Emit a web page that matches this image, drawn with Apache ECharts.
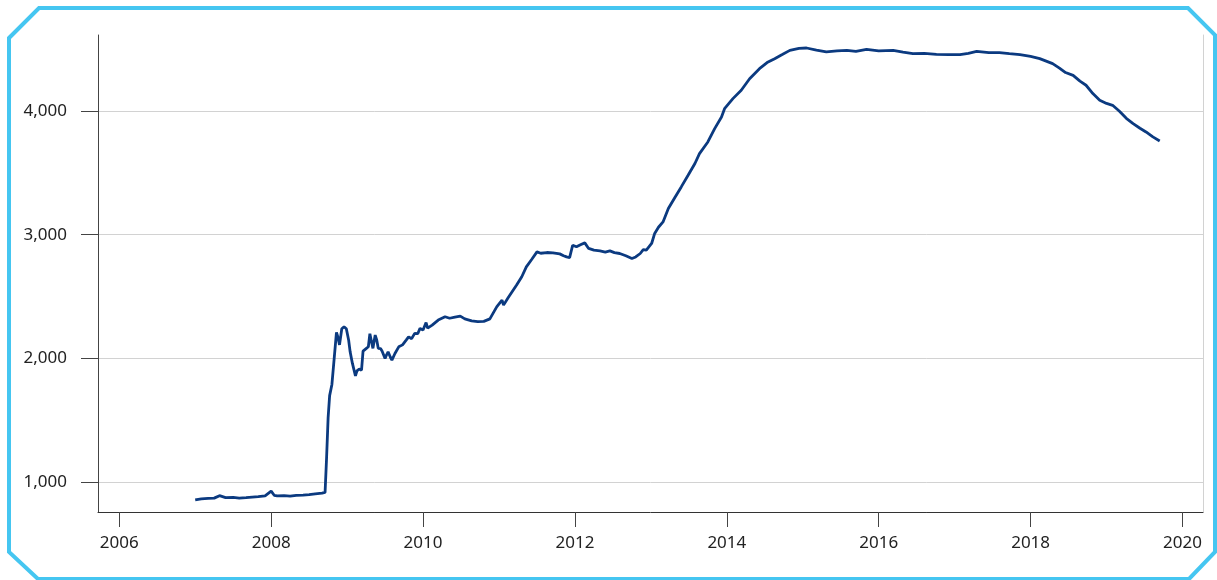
<!DOCTYPE html>
<html>
<head>
<meta charset="utf-8">
<script src="https://cdn.jsdelivr.net/npm/echarts@6/dist/echarts.min.js"></script>
<style>
html,body{margin:0;padding:0;background:#fff;}
#chart{width:1217px;height:580px;}
</style>
</head>
<body>
<div id="chart"></div>
<script>
// decimal years and values (billions)
var years = [
  2007.00,2007.08,2007.17,2007.25,2007.32,2007.40,2007.50,2007.58,2007.67,2007.75,2007.83,2007.92,
  2008.00,2008.04,2008.08,2008.17,2008.25,2008.33,2008.42,2008.50,2008.58,2008.67,2008.71,
  2008.73,2008.75,2008.77,2008.80,2008.83,2008.86,2008.88,2008.90,2008.93,2008.96,2008.99,
  2009.02,2009.04,2009.07,2009.11,2009.13,2009.16,2009.19,2009.21,2009.25,2009.28,2009.30,
  2009.32,2009.34,2009.37,2009.39,2009.41,2009.44,2009.46,2009.50,2009.52,2009.54,2009.57,
  2009.59,2009.63,2009.68,2009.73,2009.78,2009.81,2009.85,2009.89,2009.93,2009.96,2010.00,
  2010.04,2010.06,2010.12,2010.20,2010.29,2010.35,2010.42,2010.49,2010.55,2010.64,2010.72,
  2010.80,2010.88,2010.97,2011.04,2011.06,2011.12,2011.23,2011.30,2011.36,2011.43,2011.50,
  2011.55,2011.63,2011.71,2011.80,2011.85,2011.89,2011.93,2011.97,2012.02,2012.08,2012.13,
  2012.18,2012.25,2012.33,2012.40,2012.46,2012.52,2012.59,2012.67,2012.75,2012.80,2012.86,
  2012.90,2012.94,2013.01,2013.05,2013.10,2013.16,2013.23,2013.32,2013.40,2013.49,2013.58,
  2013.64,2013.75,2013.84,2013.93,2013.97,2014.08,2014.19,2014.30,2014.43,2014.53,2014.63,
  2014.73,2014.83,2014.95,2015.05,2015.18,2015.31,2015.45,2015.58,2015.70,2015.84,2016.00,
  2016.19,2016.32,2016.45,2016.60,2016.76,2016.92,2017.07,2017.18,2017.29,2017.45,2017.59,
  2017.72,2017.86,2018.00,2018.12,2018.29,2018.38,2018.46,2018.56,2018.65,2018.73,2018.82,
  2018.91,2019.00,2019.08,2019.17,2019.26,2019.35,2019.44,2019.52,2019.61,2019.70
];
var assets = [
  858,866,870,872,892,876,878,872,876,880,884,890,
  928,895,890,892,888,894,896,900,906,912,918,
  1200,1520,1700,1790,2000,2210,2170,2110,2240,2256,2240,
  2150,2054,1960,1860,1900,1915,1905,2060,2080,2095,2200,
  2140,2082,2189,2150,2082,2080,2060,2000,2030,2054,2010,
  1987,2040,2094,2110,2150,2175,2160,2203,2200,2243,2230,
  2290,2245,2270,2310,2337,2325,2335,2342,2320,2304,2298,
  2300,2320,2417,2471,2431,2490,2592,2660,2740,2800,2861,
  2850,2856,2853,2845,2830,2821,2815,2915,2902,2920,2934,
  2889,2875,2869,2860,2869,2855,2848,2830,2808,2820,2848,
  2880,2875,2929,3010,3060,3103,3211,3305,3386,3480,3575,
  3655,3749,3857,3951,4018,4099,4167,4260,4341,4390,4422,
  4455,4489,4505,4508,4490,4476,4485,4489,4480,4497,4485,
  4489,4475,4462,4465,4457,4455,4454,4465,4481,4470,4470,
  4462,4454,4440,4422,4382,4346,4310,4287,4240,4207,4140,
  4086,4060,4045,3997,3940,3897,3860,3830,3790,3757
];
var xTicks = [2006, 2008, 2010, 2012, 2014, 2016, 2018, 2020];
var yTicks = [1000, 2000, 3000, 4000];

var seriesData = [];
for (var i = 0; i < years.length; i++) {
  seriesData.push([years[i], assets[i]]);
}

var fontFam = "'Noto Sans', 'Open Sans', sans-serif";
var myChart = echarts.init(document.getElementById('chart'));

var option = {
  animation: false,
  backgroundColor: '#fff',
  grid: { left: 98, top: 35, right: 14, bottom: 68 },
  graphic: [{
    type: 'polygon',
    shape: { points: [[9,38],[39,8],[1188,8],[1215,35],[1215,552],[1189,579],[38,579],[9,552]] },
    style: { fill: 'none', stroke: '#45C6F1', lineWidth: 4 },
    silent: true, z: 100
  }],
  xAxis: {
    type: 'value',
    min: 2005.72,
    max: 2020.27,
    axisLine: { show: true, lineStyle: { color: '#333', width: 1 } },
    axisTick: { show: true, length: 15, customValues: xTicks, lineStyle: { color: '#444' } },
    axisLabel: {
      customValues: xTicks, margin: 23, color: '#222', fontSize: 17, fontFamily: fontFam,
      formatter: function (v) { return String(v); }
    },
    splitLine: { show: false }
  },
  yAxis: [{
    type: 'value',
    min: 760,
    max: 4613,
    axisLine: { show: true, lineStyle: { color: '#444', width: 1 } },
    axisTick: { show: true, length: 17, customValues: yTicks, lineStyle: { color: '#444' } },
    axisLabel: {
      customValues: yTicks, margin: 31, color: '#222', fontSize: 17, fontFamily: fontFam,
      formatter: function (v) { return v.toLocaleString('en-US'); }
    },
    splitLine: { show: true, lineStyle: { color: '#d2d2d2', width: 1 } }
  }, {
    type: 'value',
    position: 'right',
    min: 760,
    max: 4613,
    axisLine: { show: true, lineStyle: { color: '#d2d2d2', width: 1 } },
    axisTick: { show: false },
    axisLabel: { show: false },
    splitLine: { show: false }
  }],
  series: [{
    type: 'line',
    data: seriesData,
    showSymbol: false,
    lineStyle: { color: '#0B3A80', width: 2.8 },
    z: 10
  }]
};
myChart.setOption(option);
</script>
</body>
</html>
